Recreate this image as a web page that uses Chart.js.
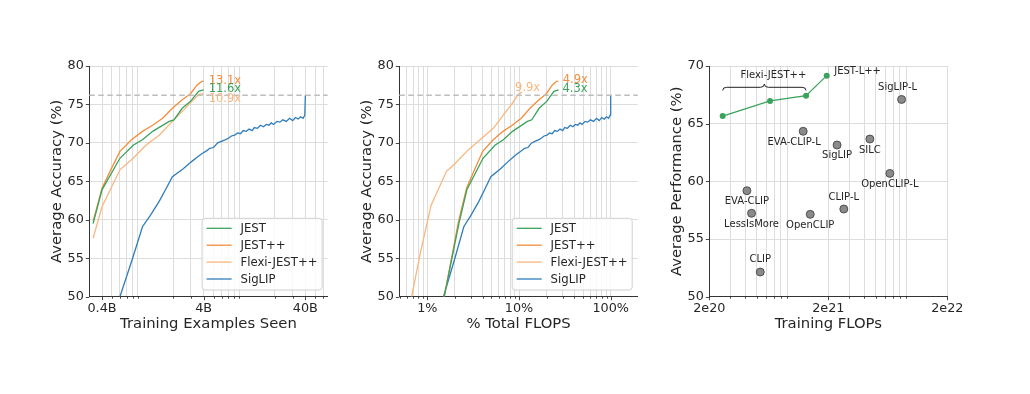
<!DOCTYPE html>
<html><head><meta charset="utf-8">
<script src="https://cdn.jsdelivr.net/npm/chart.js@4.4.0/dist/chart.umd.min.js"></script>
<style>
html,body{margin:0;padding:0;background:#fff;}
#wrap{position:relative;width:1030px;height:394px;overflow:hidden;background:#fff;}
canvas{position:absolute;left:0;top:0;}
</style></head><body>
<div id="wrap">
<canvas id="c1" width="1030" height="394"></canvas>
<canvas id="c2" width="1030" height="394"></canvas>
<canvas id="c3" width="1030" height="394"></canvas>
</div>
<script>
// ================= DATA =================
const seriesNames = ['JEST', 'JEST++', 'Flexi-JEST++', 'SigLIP'];

// Panel 1: training examples seen (billions) -> average accuracy (%)
const p1JestX   = [0.327, 0.4, 0.6, 0.81, 1.0, 1.26, 1.83, 2.04, 2.46, 2.97, 3.56, 4.0];
const p1JestY   = [59.5, 63.9, 68.0, 69.7, 70.4, 71.5, 72.8, 73.0, 74.5, 75.4, 76.7, 76.9];
const p1JestPPX = [0.327, 0.4, 0.48, 0.6, 0.78, 1.0, 1.26, 1.58, 1.97, 2.46, 2.97, 3.43, 3.83, 4.0];
const p1JestPPY = [59.8, 64.1, 66.3, 68.9, 70.4, 71.5, 72.3, 73.2, 74.5, 75.6, 76.4, 77.5, 78.0, 78.0];
const p1FlexiX  = [0.327, 0.4, 0.6, 0.81, 1.08, 1.46, 1.97, 2.46, 3.08, 3.56, 4.0];
const p1FlexiY  = [57.6, 61.7, 66.5, 68.0, 69.7, 71.0, 72.8, 74.1, 75.4, 76.3, 76.4];
const p1SigX = [0.6, 0.8, 1.0, 1.2, 1.46, 1.7, 1.97, 2.5, 3.0, 3.5, 3.83, 4.3, 4.6, 5.0, 5.5, 5.96, 6.5, 7.0, 7.5, 8.08, 8.6, 9.2, 9.8, 10.5, 11.2, 12.0, 12.6, 13.5, 14.5, 15.5, 16.5, 17.5, 18.5, 19.5, 21, 22.5, 24, 26, 28, 30, 32, 34, 36, 38, 39.5, 40];
const p1SigY = [50, 55.0, 59.1, 60.6, 62.4, 64.0, 65.6, 66.6, 67.5, 68.2, 68.6, 69.0, 69.3, 69.4, 70.0, 70.2, 70.4, 70.6, 70.9, 71.0, 71.3, 71.2, 71.6, 71.5, 71.8, 71.6, 72.0, 71.9, 72.3, 72.1, 72.4, 72.3, 72.6, 72.4, 72.8, 72.7, 73.0, 72.8, 73.2, 72.9, 73.3, 73.1, 73.4, 73.2, 73.6, 76.2];

// Panel 2: % total FLOPS -> average accuracy (%)
const p2JestX   = [1.53, 2.21, 2.7, 4.05, 5.47, 6.75, 8.5, 12.35, 13.77, 16.6, 20.05, 24.03, 27.0];
const p2JestY   = [50, 59.5, 63.9, 68.0, 69.7, 70.4, 71.5, 72.8, 73.0, 74.5, 75.4, 76.7, 76.9];
const p2JestPPX = [1.53, 2.19, 2.68, 3.22, 4.02, 5.23, 6.7, 8.44, 10.59, 13.2, 16.48, 19.9, 22.98, 25.66, 26.8];
const p2JestPPY = [50, 59.8, 64.1, 66.3, 68.9, 70.4, 71.5, 72.3, 73.2, 74.5, 75.6, 76.4, 77.5, 78.0, 78.0];
const p2FlexiX  = [0.675, 0.83, 1.1, 1.62, 2.0, 2.69, 3.76, 5.25, 6.74, 8.3, 9.8, 10.8];
const p2FlexiY  = [50, 55.4, 61.9, 66.3, 67.3, 68.9, 70.4, 71.9, 73.6, 75.0, 76.3, 76.6];
const p2SigX = [1.5, 2.0, 2.5, 3.0, 3.65, 4.25, 4.93, 6.25, 7.5, 8.75, 9.58, 10.75, 11.5, 12.5, 13.75, 14.9, 16.25, 17.5, 18.75, 20.2, 21.5, 23, 24.5, 26.25, 28, 30, 31.5, 33.75, 36.25, 38.75, 41.25, 43.75, 46.25, 48.75, 52.5, 56.25, 60, 65, 70, 75, 80, 85, 90, 95, 98.75, 100];
const p2SigY = p1SigY;

const targetAcc = 76.2;
const p1Speedups = ['11.6x', '13.1x', '10.9x'];   // JEST, JEST++, Flexi-JEST++
const p2Speedups = ['4.3x', '4.9x', '9.9x'];

// Panel 3: training FLOPs -> average performance (%)
const jestLabel = ['Flexi-JEST++', 'JEST-L++'];
const jestFlops = [2.59e20, 6.48e20, 1.30e21, 1.94e21];
const jestPerf  = [65.66, 66.97, 67.43, 69.16];
const modelNames = ['SigLIP-L', 'EVA-CLIP-L', 'SigLIP', 'SILC', 'OpenCLIP-L', 'EVA-CLIP', 'LessIsMore', 'OpenCLIP', 'CLIP-L', 'CLIP'];
const modelFlops = [8.26e21, 1.23e21, 2.37e21, 4.47e21, 6.58e21, 4.14e20, 4.53e20, 1.41e21, 2.70e21, 5.36e20];
const modelPerf  = [67.1, 64.34, 63.15, 63.67, 60.69, 59.19, 57.23, 57.14, 57.6, 52.14];

// Tick labels
const p1TickVals = [0.4, 4, 40];      const p1TickLabels = ['0.4B', '4B', '40B'];
const p2TickVals = [1, 10, 100];      const p2TickLabels = ['1%', '10%', '100%'];
const p3TickVals = [2e20, 2e21, 2e22]; const p3TickLabels = ['2e20', '2e21', '2e22'];

// ================= STYLE =================
const COLORS = {JEST: '#3ba25c', JESTPP: '#f28e3c', FLEXI: '#f9b67d', SIG: '#2f7dbb'};
const FONT = "'DejaVu Sans', sans-serif";
const TXT = '#262626';
const GRID = '#dddddd';
const TITLE_SIZE = 14.8;
Chart.defaults.font.family = FONT;
Chart.defaults.color = TXT;

function pts(xs, ys) { return xs.map((x, i) => ({x: x, y: ys[i]})); }
function logGrid(min, max, ks) {
  const out = [];
  for (let n = -3; n <= 25; n++) {
    for (const k of ks) {
      const v = parseFloat((k * Math.pow(10, n)).toPrecision(12));
      if (v >= min * (1 - 1e-9) && v <= max * (1 + 1e-9)) out.push(v);
    }
  }
  return out;
}
function near(a, b) { return Math.abs(a - b) <= Math.abs(b) * 1e-6; }

const decor = {
  id: 'decor',
  afterDatasetsDraw(chart, args, o) {
    const ctx = chart.ctx, xs = chart.scales.x, ys = chart.scales.y, ca = chart.chartArea;
    ctx.save();
    if (o.target != null) {
      const y = ys.getPixelForValue(o.target);
      ctx.strokeStyle = '#bdbdbd'; ctx.lineWidth = 1.5; ctx.setLineDash([5.5, 3.5]);
      ctx.beginPath(); ctx.moveTo(ca.left, y); ctx.lineTo(ca.right, y); ctx.stroke();
      ctx.setLineDash([]);
    }
    if (o.endLabels) {
      ctx.font = '11.5px ' + FONT; ctx.textAlign = 'left'; ctx.textBaseline = 'middle';
      o.endLabels.forEach(l => {
        const ds = chart.data.datasets[l.ds].data; const p = ds[ds.length - 1];
        ctx.fillStyle = l.color;
        ctx.fillText(l.text, xs.getPixelForValue(p.x) + l.dx, ys.getPixelForValue(p.y) + l.dy);
      });
    }
    if (o.legend) {
      const w = 120, h = 71.7;
      const bx = ca.right - 5.5 - w, by = ca.bottom - 6.7 - h;
      ctx.beginPath();
      if (ctx.roundRect) ctx.roundRect(bx, by, w, h, 3); else ctx.rect(bx, by, w, h);
      ctx.fillStyle = 'rgba(255,255,255,0.85)'; ctx.fill();
      ctx.strokeStyle = '#d0d0d0'; ctx.lineWidth = 1; ctx.stroke();
      ctx.font = '11.7px ' + FONT; ctx.textAlign = 'left'; ctx.textBaseline = 'middle';
      const cols = [COLORS.JEST, COLORS.JESTPP, COLORS.FLEXI, COLORS.SIG];
      seriesNames.forEach((n, i) => {
        const y = by + 10 + i * 16.9;
        ctx.strokeStyle = cols[i]; ctx.lineWidth = 1.3;
        ctx.beginPath(); ctx.moveTo(bx + 4.5, y); ctx.lineTo(bx + 29.5, y); ctx.stroke();
        ctx.fillStyle = TXT; ctx.fillText(n, bx + 38.4, y + 0.5);
      });
    }
    if (o.pointLabels) {
      ctx.font = '10px ' + FONT; ctx.fillStyle = TXT; ctx.textBaseline = 'middle';
      modelNames.forEach((n, i) => {
        const off = o.pointLabels[i];
        ctx.textAlign = 'center';
        ctx.fillText(n, xs.getPixelForValue(modelFlops[i]) + off[0], ys.getPixelForValue(modelPerf[i]) + off[1]);
      });
      const lx = xs.getPixelForValue(jestFlops[3]), ly = ys.getPixelForValue(jestPerf[3]);
      ctx.textAlign = 'left'; ctx.fillText(jestLabel[1], lx + 7.5, ly - 4);
      const x0 = xs.getPixelForValue(jestFlops[0]), x1 = xs.getPixelForValue(jestFlops[2]);
      const xm = (x0 + x1) / 2, yb = 87.3, ye = 90.5, yt = 84.0;
      ctx.strokeStyle = '#222'; ctx.lineWidth = 1;
      ctx.beginPath();
      ctx.moveTo(x0, ye);
      ctx.quadraticCurveTo(x0, yb, x0 + 4, yb);
      ctx.lineTo(xm - 4, yb);
      ctx.quadraticCurveTo(xm, yb, xm, yt);
      ctx.quadraticCurveTo(xm, yb, xm + 4, yb);
      ctx.lineTo(x1 - 4, yb);
      ctx.quadraticCurveTo(x1, yb, x1, ye);
      ctx.stroke();
      ctx.textAlign = 'center';
      ctx.fillText(jestLabel[0], xm + 9, 75);
    }
    ctx.restore();
  },
  afterDraw(chart, args, o) {
    const ctx = chart.ctx, xs = chart.scales.x, ys = chart.scales.y, ca = chart.chartArea;
    ctx.save(); ctx.strokeStyle = '#333'; ctx.lineWidth = 0.9;
    xs.ticks.forEach(t => {
      const px = Math.round(xs.getPixelForValue(t.value)) + 0.5;
      const len = o.xMajor.some(v => near(t.value, v)) ? 3.5 : 2;
      ctx.beginPath(); ctx.moveTo(px, ca.bottom); ctx.lineTo(px, ca.bottom + len); ctx.stroke();
    });
    ys.ticks.forEach(t => {
      const py = Math.round(ys.getPixelForValue(t.value)) + 0.5;
      ctx.beginPath(); ctx.moveTo(ca.left - 3.5, py); ctx.lineTo(ca.left, py); ctx.stroke();
    });
    ctx.restore();
  }
};

function lineDs(label, data, color) {
  return {label, data, borderColor: color, backgroundColor: color, borderWidth: 1.3,
          pointRadius: 0, tension: 0, fill: false};
}

function makeChart(id, cfg) {
  const left = cfg.left, right = cfg.right;
  const padLeft = left - 89.3;
  return new Chart(document.getElementById(id), {
    type: 'line',
    data: {datasets: cfg.datasets},
    plugins: [decor],
    options: {
      responsive: false, animation: false, devicePixelRatio: 1,
      layout: {padding: {left: padLeft, right: 1030 - right, top: 66, bottom: 0}},
      plugins: {legend: {display: false}, tooltip: {enabled: false}, decor: cfg.decor},
      scales: {
        x: {
          type: 'logarithmic', min: cfg.xmin, max: cfg.xmax,
          afterBuildTicks: s => { s.ticks = cfg.xgrid.map(v => ({value: v})); },
          afterFit: s => { s.height = 394 - 296.7; s.paddingLeft = 0; s.paddingRight = 0; },
          ticks: {autoSkip: false, maxRotation: 0, minRotation: 0, padding: 4.2,
                  font: {size: 12.8}, color: TXT,
                  callback: (v) => { const i = cfg.xTickVals.findIndex(t => near(v, t)); return i >= 0 ? cfg.xTickLabels[i] : ''; }},
          grid: {color: GRID, lineWidth: 1, drawTicks: false},
          border: {display: true, color: '#333', width: 1},
          title: {display: true, text: cfg.xTitle, font: {size: TITLE_SIZE}, color: TXT, padding: {top: 0, bottom: 61.1}}
        },
        y: {
          type: 'linear', min: cfg.ymin, max: cfg.ymax,
          afterFit: s => { s.width = 89.3; },
          ticks: {stepSize: 5, padding: 5.5, font: {size: 12.8}, color: TXT},
          grid: {color: GRID, lineWidth: 1, drawTicks: false},
          border: {display: true, color: '#333', width: 1},
          title: {display: true, text: cfg.yTitle, font: {size: TITLE_SIZE}, color: TXT, padding: {top: 48.1, bottom: 0}}
        }
      }
    }
  });
}

makeChart('c1', {
  left: 89.3, right: 327.6, xmin: 0.327, xmax: 66.2, ymin: 50, ymax: 80,
  xgrid: logGrid(0.327, 66.2, [2,3,4,5,6,7,8,9]),
  xTickVals: p1TickVals, xTickLabels: p1TickLabels,
  xTitle: 'Training Examples Seen', yTitle: 'Average Accuracy (%)',
  datasets: [
    lineDs('JEST', pts(p1JestX, p1JestY), COLORS.JEST),
    lineDs('JEST++', pts(p1JestPPX, p1JestPPY), COLORS.JESTPP),
    lineDs('Flexi-JEST++', pts(p1FlexiX, p1FlexiY), COLORS.FLEXI),
    lineDs('SigLIP', pts(p1SigX, p1SigY), COLORS.SIG)
  ],
  decor: {target: targetAcc, legend: true, xMajor: p1TickVals,
    endLabels: [
      {ds: 1, text: p1Speedups[1], color: COLORS.JESTPP, dx: 5, dy: -0.4},
      {ds: 0, text: p1Speedups[0], color: COLORS.JEST, dx: 5, dy: -0.5},
      {ds: 2, text: p1Speedups[2], color: COLORS.FLEXI, dx: 5, dy: 5.6}
    ]}
});

makeChart('c2', {
  left: 399.3, right: 637.7, xmin: 0.495, xmax: 197, ymin: 50, ymax: 80,
  xgrid: logGrid(0.495, 197, [1,2,3,4,5,6,7,8,9]),
  xTickVals: p2TickVals, xTickLabels: p2TickLabels,
  xTitle: '% Total FLOPS', yTitle: 'Average Accuracy (%)',
  datasets: [
    lineDs('JEST', pts(p2JestX, p2JestY), COLORS.JEST),
    lineDs('JEST++', pts(p2JestPPX, p2JestPPY), COLORS.JESTPP),
    lineDs('Flexi-JEST++', pts(p2FlexiX, p2FlexiY), COLORS.FLEXI),
    lineDs('SigLIP', pts(p2SigX, p2SigY), COLORS.SIG)
  ],
  decor: {target: targetAcc, legend: true, xMajor: p2TickVals,
    endLabels: [
      {ds: 1, text: p2Speedups[1], color: COLORS.JESTPP, dx: 4.4, dy: -1.4},
      {ds: 0, text: p2Speedups[0], color: COLORS.JEST, dx: 4, dy: -0.5},
      {ds: 2, text: p2Speedups[2], color: COLORS.FLEXI, dx: -7, dy: -4}
    ]}
});

makeChart('c3', {
  left: 709.3, right: 947.3, xmin: 2e20, xmax: 2e22, ymin: 50, ymax: 70,
  xgrid: logGrid(2e20, 2e22, [2,3,4,5,6,7,8,9]),
  xTickVals: p3TickVals, xTickLabels: p3TickLabels,
  xTitle: 'Training FLOPs', yTitle: 'Average Performance (%)',
  datasets: [
    {label: 'JEST', data: pts(jestFlops, jestPerf), borderColor: COLORS.JEST, backgroundColor: COLORS.JEST,
     borderWidth: 1.2, pointRadius: 3, pointBorderWidth: 0, tension: 0, fill: false},
    {label: 'Baselines', data: pts(modelFlops, modelPerf), showLine: false, pointRadius: 4,
     pointBackgroundColor: '#8a8a8a', pointBorderColor: '#3a3a3a', pointBorderWidth: 0.8}
  ],
  decor: {xMajor: p3TickVals,
    pointLabels: [[-4, -12], [-9, 11], [0, 10.7], [0, 11], [0, 10.7], [0, 10.3], [0, 10.7], [0, 10.7], [0, -11.3], [0, -13]]}
});
</script>
</body></html>
